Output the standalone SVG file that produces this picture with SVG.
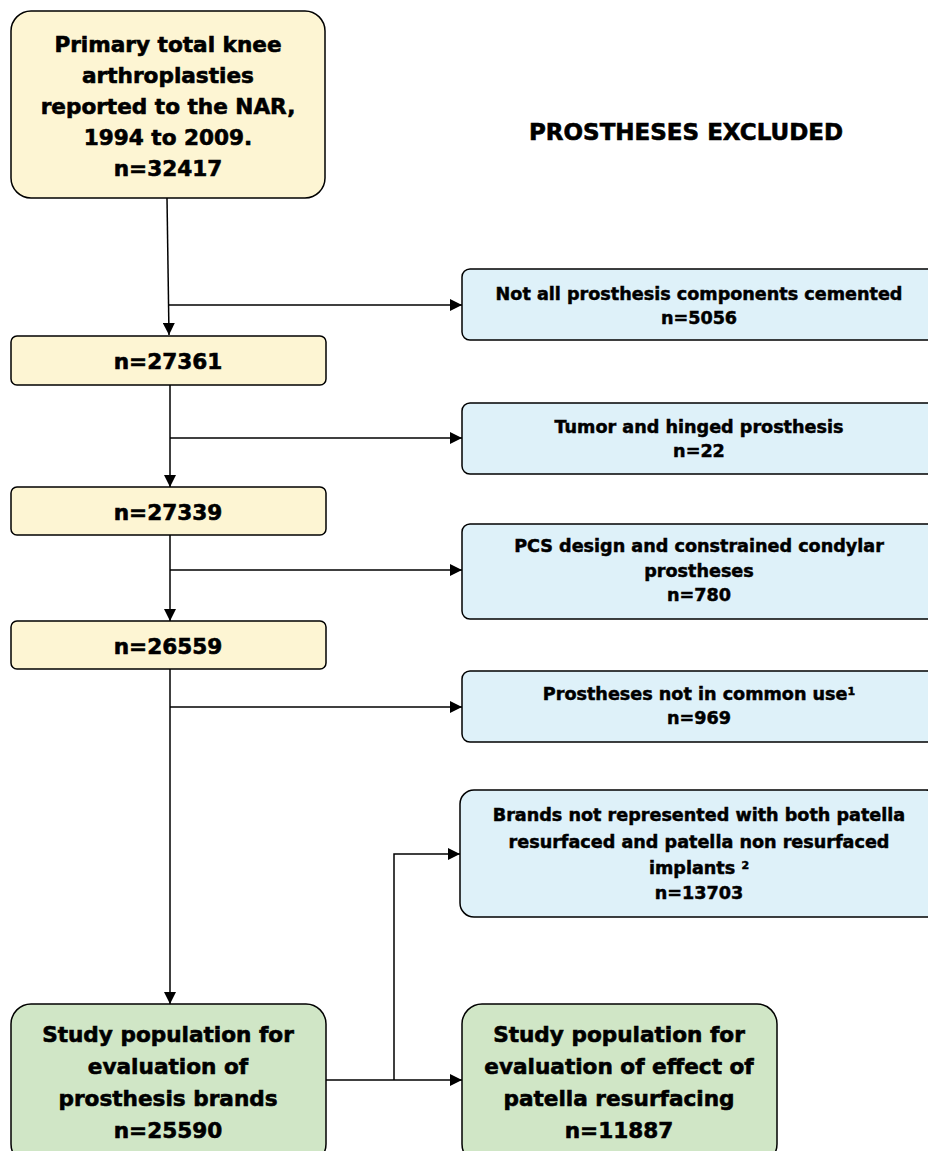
<svg xmlns="http://www.w3.org/2000/svg" width="928" height="1151" viewBox="0 0 928 1151">
<style>
.y{fill:#fdf5d3;stroke:#000;stroke-width:1.5}
.b{fill:#def1f9;stroke:#000;stroke-width:1.5}
.g{fill:#d0e6c6;stroke:#000;stroke-width:1.5}
text{font-family:"DejaVu Sans","Liberation Sans",sans-serif;font-weight:bold;text-anchor:middle;fill:#000;stroke:#000;stroke-width:0.6}
.l{font-size:21.6px}
.s{font-size:17.6px;stroke-width:0.5}
.h{font-size:23px}
.c line,.c polyline{stroke:#000;stroke-width:1.5;fill:none}
</style>
<defs>
<marker id="a" viewBox="0 0 10 10" refX="10" refY="5" markerWidth="12" markerHeight="12" markerUnits="userSpaceOnUse" orient="auto">
<path d="M0,0 L10,5 L0,10 z" fill="#000"/>
</marker>
</defs>
<text class="h" x="686" y="140">PROSTHESES EXCLUDED</text>
<g class="c">
<line x1="167" y1="198" x2="169" y2="335" marker-end="url(#a)"/>
<line x1="169" y1="305" x2="462" y2="305" marker-end="url(#a)"/>
<line x1="170" y1="385" x2="170" y2="487" marker-end="url(#a)"/>
<line x1="170" y1="438" x2="462" y2="438" marker-end="url(#a)"/>
<line x1="170" y1="535" x2="170" y2="621" marker-end="url(#a)"/>
<line x1="170" y1="570" x2="462" y2="570" marker-end="url(#a)"/>
<line x1="170" y1="669" x2="170" y2="1004" marker-end="url(#a)"/>
<line x1="170" y1="707" x2="462" y2="707" marker-end="url(#a)"/>
<line x1="326" y1="1080" x2="462" y2="1080" marker-end="url(#a)"/>
<polyline points="394,1080 394,854 460,854" marker-end="url(#a)"/>
</g>
<g id="n1">
<rect class="y" x="11" y="11" width="314" height="187" rx="20"/>
<text class="l" x="168" y="52">Primary total knee</text>
<text class="l" x="168" y="83">arthroplasties</text>
<text class="l" x="168" y="114">reported to the NAR,</text>
<text class="l" x="168" y="145">1994 to 2009.</text>
<text class="l" x="168" y="176">n=32417</text>
</g>
<g id="n2">
<rect class="y" x="11" y="336" width="315" height="49" rx="6"/>
<text class="l" x="168" y="369">n=27361</text>
</g>
<g id="n3">
<rect class="y" x="11" y="487" width="315" height="48" rx="6"/>
<text class="l" x="168" y="520">n=27339</text>
</g>
<g id="n4">
<rect class="y" x="11" y="621" width="315" height="48" rx="6"/>
<text class="l" x="168" y="654">n=26559</text>
</g>
<g id="e1">
<rect class="b" x="462" y="269" width="480" height="71" rx="8"/>
<text class="s" x="699" y="300">Not all prosthesis components cemented</text>
<text class="s" x="699" y="324">n=5056</text>
</g>
<g id="e2">
<rect class="b" x="462" y="403" width="480" height="71" rx="8"/>
<text class="s" x="699" y="433">Tumor and hinged prosthesis</text>
<text class="s" x="699" y="457">n=22</text>
</g>
<g id="e3">
<rect class="b" x="462" y="524" width="480" height="95" rx="8"/>
<text class="s" x="699" y="552">PCS design and constrained condylar</text>
<text class="s" x="699" y="577">prostheses</text>
<text class="s" x="699" y="601">n=780</text>
</g>
<g id="e4">
<rect class="b" x="462" y="671" width="480" height="71" rx="8"/>
<text class="s" x="699" y="700">Prostheses not in common use<tspan font-size="11" dy="-5">1</tspan></text>
<text class="s" x="699" y="724">n=969</text>
</g>
<g id="e5">
<rect class="b" x="460" y="790" width="480" height="127" rx="14"/>
<text class="s" x="699" y="821">Brands not represented with both patella</text>
<text class="s" x="699" y="848">resurfaced and patella non resurfaced</text>
<text class="s" x="699" y="874">implants <tspan font-size="11" dy="-5">2</tspan></text>
<text class="s" x="699" y="899">n=13703</text>
</g>
<g id="p1">
<rect class="g" x="11" y="1004" width="315" height="160" rx="20"/>
<text class="l" x="168" y="1042">Study population for</text>
<text class="l" x="168" y="1074">evaluation of</text>
<text class="l" x="168" y="1106">prosthesis brands</text>
<text class="l" x="168" y="1138">n=25590</text>
</g>
<g id="p2">
<rect class="g" x="462" y="1004" width="315" height="160" rx="20"/>
<text class="l" x="619" y="1042">Study population for</text>
<text class="l" x="619" y="1074">evaluation of effect of</text>
<text class="l" x="619" y="1106">patella resurfacing</text>
<text class="l" x="619" y="1138">n=11887</text>
</g>
</svg>
